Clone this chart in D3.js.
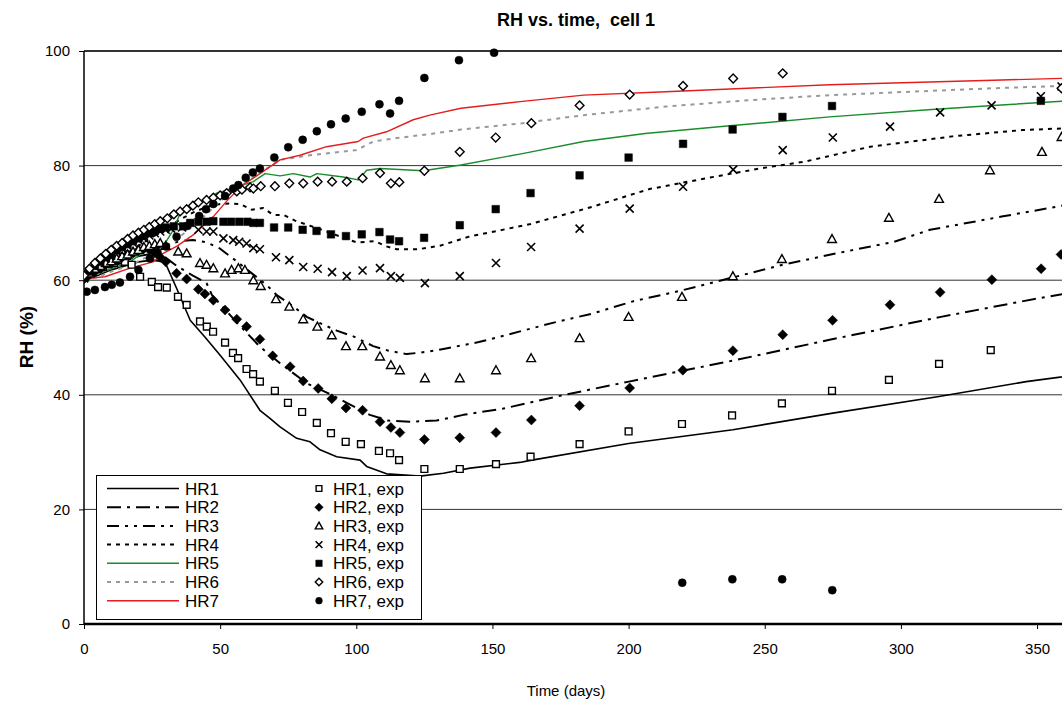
<!DOCTYPE html>
<html><head><meta charset="utf-8">
<script src="https://cdn.jsdelivr.net/npm/d3@7"></script>
<style>
body{margin:0;background:#fff;}
svg text{font-family:"Liberation Sans",Arial,sans-serif;fill:#000;}
</style></head>
<body><svg id="c" width="1062" height="704"></svg>
<script>
// ---------- data ----------
const chartTitle = "RH vs. time,  cell 1";
const xTicks = [0, 50, 100, 150, 200, 250, 300, 350];
const yTicks = [0, 20, 40, 60, 80, 100];
const lineNames = ["HR1","HR2","HR3","HR4","HR5","HR6","HR7"];
const expNames = ["HR1, exp","HR2, exp","HR3, exp","HR4, exp","HR5, exp","HR6, exp","HR7, exp"];

const HR1 = [[0,60],[5,60.8],[10,61.8],[15,62.5],[20,63.2],[25,63.5],[29.7,63.2],[34,58.6],[39,53],[44.4,50.1],[50,46.9],[57.3,42.6],[64.6,37.3],[68.3,35.9],[72,34.4],[78.1,32.4],[83,31.8],[86.7,30.4],[92.8,29.2],[101.4,28.6],[103.8,27.5],[111.1,26.2],[123.4,25.8],[132,26.3],[141.8,27.2],[160,28.2],[164.5,28.6],[200,31.5],[238.3,33.9],[275,36.8],[314,39.7],[346,42.3],[365,43.5]];
const HR2 = [[0,60],[5,61],[10,62.3],[15,63.3],[20,64.2],[25,64.6],[29,64.3],[34,62.5],[40,60.8],[45,59.5],[47,57.4],[55,53.2],[64.6,48.4],[72,45.5],[81.8,42],[89.6,40.3],[96.5,38.6],[105,36.5],[111.6,35.5],[119.7,35.3],[129.5,35.5],[139.3,36.5],[154,37.6],[176.5,40],[200.1,42.3],[239.7,46.1],[273.8,49.6],[314.7,53.6],[350,56.8],[365,58]];
const HR3 = [[0,60],[5,61.2],[10,62.5],[15,63.5],[20,64.5],[25,65.3],[30,66],[35,66.8],[40,67],[45,66.6],[50,65.5],[55.5,63.5],[60,61.8],[67,59.2],[70.8,57.4],[76.9,55.4],[81.8,53.6],[86.7,52.5],[92.8,51.2],[98.9,50.2],[106.2,48.5],[111.8,47.7],[118.5,47.1],[125.9,47.5],[132,48],[145,49.2],[154.8,50.4],[172.5,52.6],[186.9,54.2],[201.5,56.3],[218.5,58.1],[234.3,60],[256.7,62.7],[276.5,64.7],[297.5,66.7],[310.7,68.8],[337,71.1],[365,73.5]];
const HR4 = [[0,60],[5,61.5],[10,63],[15,64.5],[20,66],[25,67.5],[30,69],[35,70.5],[40,71.8],[45,72.8],[50,73.3],[53.6,73.4],[57.3,73.3],[61.6,72.3],[65.8,72.6],[69.5,71.4],[73.2,71.4],[77.5,70.4],[83,69.5],[89.1,68.5],[96.5,67.2],[100.1,66.6],[106.9,66.8],[111.1,65.9],[114.8,65.4],[122.8,65.4],[126.4,65.7],[130.7,66],[141.4,67.6],[164,69.8],[186.6,72.8],[207.6,75.9],[228.6,77.8],[248.2,79.5],[264.8,80.7],[288.8,83.3],[318.9,85.1],[344.5,86.2],[365,86.6]];
const HR5 = [[0,60],[3.4,60.9],[10,62],[16.9,63.2],[23,65.3],[29.1,65.9],[32.8,68.8],[35.3,71.7],[41.4,73.1],[45,74],[48.7,75.2],[52.4,75.7],[62.2,77.2],[66.5,78.6],[72,78.2],[76.9,78.6],[83,78],[85.5,78.6],[95.2,78],[100.7,77.5],[103.8,79.2],[108.7,79.5],[124.6,79.1],[138.4,80.1],[161,82.1],[183.5,84.2],[206.1,85.6],[236.2,86.9],[273.8,88.5],[311.4,89.8],[333.9,90.5],[365,91.4]];
const HR6 = [[0,60],[5,60.5],[10,61.5],[16.9,62.6],[25,64.5],[30,65.8],[35,67.5],[40,69.5],[45,71.5],[50,73.8],[55,75.6],[60,77.2],[65,78.8],[72,81],[83,81.8],[100.1,82.7],[106.2,84.2],[114.8,84.8],[127,85.5],[138.4,86.3],[161,87.4],[183.5,88.8],[213.6,90.3],[243.7,91.4],[273.8,92.3],[303.9,92.9],[333.9,93.5],[365,94]];
const HR7 = [[0,60],[3.4,60.4],[7.7,60.6],[16.9,62.1],[25.4,63.2],[29.1,64.7],[34,65.9],[40.1,67.9],[47.5,71.1],[52.4,73.8],[58,76.5],[64.6,78.6],[72,81],[79.3,81.8],[89.1,83.3],[100.7,84.2],[102.6,84.8],[111.1,85.9],[120.9,88],[127,88.8],[138.4,90],[161,91.2],[183.5,92.3],[213.6,92.9],[243.7,93.5],[273.8,94.1],[303.9,94.5],[333.9,94.9],[365,95.3]];

const HR1exp = [[0,60.5],[1,61],[3,61.5],[5,62],[7,62.3],[9,62.8],[11,63],[13,63.5],[15,63.2],[17.5,62.7],[20.6,60.6],[24.9,59.7],[27.2,58.8],[30.4,58.7],[34.5,57.1],[37.7,55.7],[42.6,52.8],[45.1,51.9],[47.4,51.0],[51.8,49.1],[54.7,47.3],[56.6,46.4],[59.7,44.5],[62.1,43.6],[64.6,42.3],[70.1,40.7],[74.9,38.6],[80.1,37.0],[85.5,35.1],[90.7,33.3],[96.1,31.8],[101.7,31.4],[108.3,30.2],[112.4,29.8],[115.7,28.6],[125,27.05],[138,27.05],[151.3,27.9],[164,29.2],[182,31.4],[200,33.6],[219.6,34.9],[238,36.4],[256.3,38.5],[274.7,40.7],[295.6,42.6],[314,45.4],[333,47.8]];
const HR2exp = [[0,60.2],[2,61],[4,61.5],[6,62],[8,62.8],[10,63],[12,63.5],[14,64],[16,64.5],[18,64.8],[20,65.2],[22,65.5],[24,65.3],[26,64.8],[28,64],[30,63.2],[34,61.2],[37.7,60.2],[42,58.4],[44.4,57.6],[47.5,56.5],[51.8,54.8],[56.1,53.2],[59.7,51.9],[64.6,49.7],[69.3,46.8],[75.7,44.9],[80.5,42.4],[86,41.1],[91,39.3],[96.2,37.7],[102.3,37.3],[108.7,35.3],[112.7,34.3],[116,33.4],[125,32.2],[138,32.5],[151.3,33.4],[164.3,35.6],[182,38.1],[200.4,41.2],[219.9,44.3],[238.3,47.7],[256.6,50.5],[274.9,53.0],[296,55.7],[314.4,57.9],[333.4,60.1],[351.5,62.0],[358.8,64.5]];
const HR3exp = [[0,60.5],[2,61.2],[4,62],[6,62.5],[8,63],[10,63.3],[12,63.8],[14,64.2],[16,64.5],[18,65],[20,65.3],[22,65.8],[24,66],[26,66.3],[28,66.5],[30,66],[34.6,65],[37.7,64.7],[42.6,63],[45,62.7],[47.5,62.1],[51.8,61.2],[54.2,61.8],[56.7,62.1],[59.1,61.8],[62.2,60],[64.9,59],[70.5,56.7],[75.4,55.4],[80.5,53.2],[85.7,51.9],[91,50.4],[96.2,48.5],[102.2,48.5],[108.7,46.7],[112.7,45.2],[116,44.3],[125.2,42.9],[138,42.9],[151.3,44.3],[164.2,46.4],[182,49.9],[200,53.6],[219.6,57.1],[238.3,60.7],[256.3,63.7],[274.7,67.2],[295.6,70.9],[314,74.2],[332.7,79.2],[351.8,82.4],[359,85]];
const HR4exp = [[0,60.3],[2,61.5],[4,62.3],[6,63],[8,63.8],[10,64.3],[12,65],[14,65.5],[16,66],[18,66.5],[20,67],[22,67.3],[24,67.8],[26,68.2],[28,68.5],[30,68.8],[32,69],[36,69.2],[42,68.8],[45,68.5],[47.5,68.5],[51.2,67.3],[54.8,67],[57,66.7],[59.7,66.4],[62.2,65.6],[64.6,65.4],[70.5,64.0],[75.4,63.5],[80.5,62.3],[85.8,62.0],[91.1,61.4],[96.5,60.7],[102.3,61.7],[108.7,62.1],[112.7,60.7],[116,60.4],[125.2,59.5],[138,60.7],[151.3,63.0],[164.2,65.8],[182,69.0],[200.4,72.5],[220,76.3],[238.4,79.3],[256.6,82.7],[275,84.9],[296,86.8],[314.4,89.3],[333.3,90.5],[351.4,92.1],[359,93.8]];
const HR5exp = [[0,60.5],[2,61.5],[4,62.5],[6,63.2],[8,64],[10,64.5],[12,65.2],[14,65.8],[16,66.3],[18,66.8],[20,67.3],[22,67.8],[24,68.2],[26,68.6],[28,69],[30,69.2],[33,69.4],[36.4,69.4],[39,70],[42,70.2],[45,70.2],[47.5,70.3],[51.2,70.2],[54,70.2],[57,70.2],[60,70.2],[62.2,70],[64.6,70],[69.8,69.2],[75,69.2],[80.3,68.8],[85.4,68.6],[90.7,68.0],[96.2,67.7],[102,68.0],[108.5,68.4],[112.4,67.1],[115.7,66.8],[124.9,67.4],[138,69.6],[151.2,72.4],[164,75.2],[182,78.3],[200,81.4],[220,83.8],[238.2,86.3],[256.5,88.5],[274.7,90.4],[351.4,91.3]];
const HR6exp = [[0,60.8],[2,62],[4,63],[6,63.8],[8,64.6],[10,65.3],[12,66],[14,66.5],[16,67.2],[18,67.8],[20,68.3],[22,68.8],[24,69.3],[26,69.8],[28,70.3],[30.6,70.8],[33,71.5],[35.3,72.0],[37.7,72.4],[40,73],[42,73.6],[45,74],[47.5,74.4],[50,74.8],[52.4,75.2],[56.1,75.5],[58,75.8],[61,76.2],[62.2,76.0],[64.9,76.4],[70.1,76.4],[75.4,76.9],[80.5,76.9],[85.8,77.2],[91.1,77.2],[96.5,77.2],[102.3,77.8],[108.7,78.7],[112.7,76.9],[115.8,77.1],[125,79.1],[138,82.4],[151.2,84.9],[164.3,87.4],[182,90.5],[200.4,92.4],[220,93.9],[238.4,95.2],[256.6,96.1],[359,93.5]];
const HR7exp = [[1,58.0],[4,58.3],[7.7,58.8],[10.2,59.2],[13.2,59.6],[16.9,60.6],[20,61.8],[24.2,63.8],[27,64.8],[30.1,65.9],[34,67.6],[38,69.5],[42.3,71.2],[44.8,72.4],[47.5,73.3],[51.8,74.7],[54.8,76.0],[56.7,76.6],[59.4,77.9],[62,78.8],[64.6,79.5],[69.9,81.4],[75,83.2],[80.3,84.5],[85.5,86.0],[90.7,87.2],[96.1,88.2],[102,89.4],[108.5,90.7],[112.4,89.1],[115.7,91.3],[125,95.3],[137.7,98.4],[150.6,99.7],[219.7,7.2],[238.1,7.8],[256.4,7.8],[274.8,5.9]];

// ---------- layout ----------
const W = 1062, H = 704;
const padL = 84, padT = 51, padB = 624;
const pxPerDay = 2.723;
const svg = d3.select("#c");
const x = d3.scaleLinear().domain([0, 365]).range([padL, padL + 365 * pxPerDay]);
const y = d3.scaleLinear().domain([0, 100]).range([padB, padT]);

svg.append("defs").append("clipPath").attr("id","clip")
  .append("rect").attr("x", padL).attr("y", padT - 8).attr("width", W - padL).attr("height", padB - padT + 16);

// gridlines
svg.append("g").selectAll("line").data([20,40,60,80]).join("line")
  .attr("x1", padL).attr("x2", W).attr("y1", d => y(d)).attr("y2", d => y(d))
  .attr("stroke", "#333").attr("stroke-width", 1);
// top border
svg.append("line").attr("x1", padL).attr("x2", W).attr("y1", y(100)).attr("y2", y(100))
  .attr("stroke", "#333").attr("stroke-width", 2);

// axes
const xAxis = svg.append("g").attr("transform", `translate(0,${padB})`)
  .call(d3.axisBottom(x).tickValues(xTicks).tickSize(5).tickPadding(14).tickFormat(d3.format("d")));
xAxis.select(".domain").attr("d", `M${padL},0H${W}`).attr("stroke", "#000").attr("stroke-width", 2.5);
xAxis.selectAll(".tick line").attr("stroke", "#000");
xAxis.selectAll("text").attr("font-size", 15);

const yAxis = svg.append("g").attr("transform", `translate(${padL},0)`)
  .call(d3.axisLeft(y).tickValues(yTicks).tickSize(5).tickPadding(9));
yAxis.select(".domain").attr("d", `M0,${padT}V${padB}`).attr("stroke", "#000").attr("stroke-width", 1.5);
yAxis.selectAll(".tick line").attr("stroke", "#000");
yAxis.selectAll("text").attr("font-size", 15);

// line styles
const lineStyles = [
  {data: HR1, color: "#000", width: 1.6, dash: null},
  {data: HR2, color: "#000", width: 2, dash: "14,6,3,6"},
  {data: HR3, color: "#000", width: 2, dash: "12,6,3,6,3,6"},
  {data: HR4, color: "#000", width: 2, dash: "4,5"},
  {data: HR5, color: "#1a8c2c", width: 1.4, dash: null},
  {data: HR6, color: "#999", width: 2, dash: "4,5"},
  {data: HR7, color: "#e41e1e", width: 1.4, dash: null}
];

// custom marker symbols (size = half-width)
const symSquare = {draw(c, r){ c.rect(-r, -r, 2*r, 2*r); }};
const symDiamond = {draw(c, r){ c.moveTo(0,-r); c.lineTo(r,0); c.lineTo(0,r); c.lineTo(-r,0); c.closePath(); }};
const symTri = {draw(c, r){ c.moveTo(0,-r); c.lineTo(r,r*0.8); c.lineTo(-r,r*0.8); c.closePath(); }};
const symX = {draw(c, r){ c.moveTo(-r,-r); c.lineTo(r,r); c.moveTo(r,-r); c.lineTo(-r,r); }};
const symCircle = {draw(c, r){ c.moveTo(r,0); c.arc(0,0,r,0,2*Math.PI); }};

const markerStyles = [
  {data: HR1exp, type: symSquare, r: 3.4, fill: "#fff", sw: 1.4},
  {data: HR2exp, type: symDiamond, r: 5, fill: "#000", sw: 0.5},
  {data: HR3exp, type: symTri, r: 4.4, fill: "#fff", sw: 1.4},
  {data: HR4exp, type: symX, r: 4, fill: "none", sw: 1.6},
  {data: HR5exp, type: symSquare, r: 3.8, fill: "#000", sw: 0.5},
  {data: HR6exp, type: symDiamond, r: 4.4, fill: "#fff", sw: 1.4},
  {data: HR7exp, type: symCircle, r: 4, fill: "#000", sw: 0.5}
];

const plot = svg.append("g").attr("clip-path", "url(#clip)");
const lineGen = d3.line().x(d => x(d[0])).y(d => y(d[1]));

lineStyles.forEach(s => {
  plot.append("path").attr("d", lineGen(s.data)).attr("fill", "none")
    .attr("stroke", s.color).attr("stroke-width", s.width)
    .attr("stroke-dasharray", s.dash).attr("stroke-linejoin", "round");
});

markerStyles.forEach(m => {
  const sym = d3.symbol().type(m.type).size(m.r);
  plot.append("g").selectAll("path").data(m.data).join("path")
    .attr("transform", d => `translate(${x(d[0])},${y(d[1])})`)
    .attr("d", sym)
    .attr("fill", m.fill).attr("stroke", "#000").attr("stroke-width", m.sw);
});

// titles
svg.append("text").attr("x", 576).attr("y", 26).attr("text-anchor", "middle")
  .attr("font-size", 18).attr("font-weight", "bold").style("white-space", "pre").text(chartTitle);
svg.append("text").attr("transform", "translate(33,337) rotate(-90)").attr("text-anchor", "middle")
  .attr("font-size", 19).attr("font-weight", "bold").text("RH (%)");
svg.append("text").attr("x", 566).attr("y", 696).attr("text-anchor", "middle")
  .attr("font-size", 15).text("Time (days)");

// legend
const lg = svg.append("g");
lg.append("rect").attr("x", 96.5).attr("y", 475.5).attr("width", 325).attr("height", 144)
  .attr("fill", "#fff").attr("stroke", "#000").attr("stroke-width", 1);
const rowY = i => 488.5 + i * 18.7;
lineNames.forEach((n, i) => {
  const s = lineStyles[i];
  lg.append("line").attr("x1", 107).attr("x2", 179).attr("y1", rowY(i)).attr("y2", rowY(i))
    .attr("stroke", s.color).attr("stroke-width", s.width).attr("stroke-dasharray", s.dash);
  lg.append("text").attr("x", 185).attr("y", rowY(i) + 6).attr("font-size", 17).text(n);
});
expNames.forEach((n, i) => {
  const m = markerStyles[i];
  lg.append("path").attr("transform", `translate(319,${rowY(i)})`)
    .attr("d", d3.symbol().type(m.type).size(m.r * 0.85))
    .attr("fill", m.fill).attr("stroke", "#000").attr("stroke-width", m.sw);
  lg.append("text").attr("x", 333).attr("y", rowY(i) + 6).attr("font-size", 17).text(n);
});
</script></body></html>
